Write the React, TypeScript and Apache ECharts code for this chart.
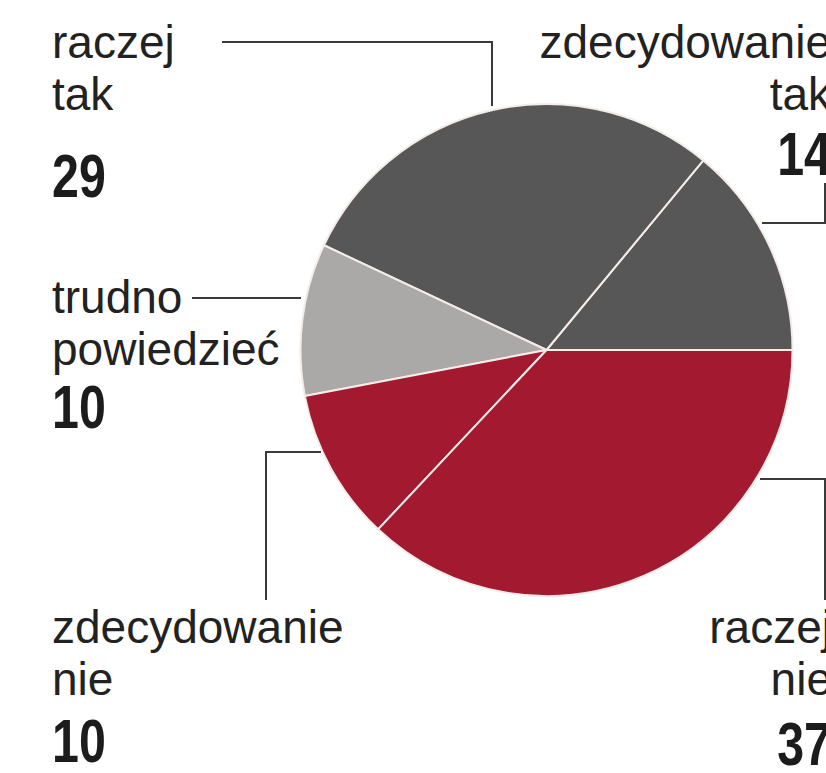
import React, { useEffect, useRef } from "react";
import * as echarts from "echarts";

// ---- data ----
const categories = [
  "zdecydowanie\ntak",
  "raczej\ntak",
  "trudno\npowiedzieć",
  "zdecydowanie\nnie",
  "raczej\nnie",
];
const values = [14, 29, 10, 10, 37];

// ---- styles / layout (not data) ----
const sliceColors = ["#575757", "#575757", "#aaa9a7", "#a3192f", "#a3192f"];
const textFont = "'Liberation Sans', Arial, sans-serif";
const numFont = "'Liberation Sans', Arial, sans-serif";
const labelPos = [
  { x: 831, y: 16, align: "right" },
  { x: 52, y: 16, align: "left" },
  { x: 52, y: 271, align: "left" },
  { x: 52, y: 601, align: "left" },
  { x: 832, y: 601, align: "right" },
];
// number anchor: x edge + baseline y
const numPos = [
  { x: 831, base: 175, align: "right" },
  { x: 52, base: 197, align: "left" },
  { x: 52, base: 428, align: "left" },
  { x: 52, base: 762, align: "left" },
  { x: 831, base: 765, align: "right" },
];
const leaderLines = [
  [[762, 223], [825, 223], [825, 183]],
  [[492, 106], [492, 42], [222, 42]],
  [[301, 298], [296, 298], [192, 298]],
  [[321, 452], [266, 452], [266, 600]],
  [[760, 479], [825, 479], [825, 600]],
];

export default function App() {
  const ref = useRef<HTMLDivElement>(null);
  useEffect(() => {
    if (!ref.current) return;
    const chart = echarts.init(ref.current, undefined, { renderer: "svg" });
    const numSize = 62;
    chart.setOption({
      animation: false,
      backgroundColor: "#ffffff",
      graphic: values.map((v, i) => ({
        type: "text",
        x: numPos[i].x,
        y: numPos[i].base - 0.3465 * numSize,
        scaleX: 0.78,
        silent: true,
        style: {
          text: String(v),
          fontFamily: numFont,
          fontWeight: "bold",
          fontSize: numSize,
          fill: "#1c1c1c",
          align: numPos[i].align,
          verticalAlign: "middle",
        },
      })),
      series: [
        {
          type: "pie",
          center: [546.5, 350],
          radius: [0, 246],
          startAngle: 0,
          clockwise: false,
          avoidLabelOverlap: false,
          itemStyle: { borderColor: "#f4ece8", borderWidth: 2 },
          label: {
            show: true,
            position: "outside",
            formatter: (p: any) =>
              p.name
                .split("\n")
                .map((s: string) => `{t|${s}}`)
                .join("\n"),
            rich: {
              t: { fontFamily: textFont, fontSize: 46, lineHeight: 52, color: "#222222" },
            },
          },
          labelLine: {
            show: true,
            lineStyle: { color: "#3a3a3a", width: 2 },
          },
          labelLayout: (params: any) => {
            const i = params.dataIndex;
            const lp = labelPos[i];
            return {
              x: lp.x,
              y: lp.y,
              align: lp.align,
              verticalAlign: "top",
              labelLinePoints: leaderLines[i],
            };
          },
          emphasis: { disabled: true },
          data: categories.map((name, i) => ({
            name,
            value: values[i],
            itemStyle: { color: sliceColors[i] },
          })),
        },
      ],
    });
    return () => chart.dispose();
  }, []);
  return (
    <div
      ref={ref}
      style={{ position: "fixed", left: 0, top: 0, width: 826, height: 773 }}
    />
  );
}
